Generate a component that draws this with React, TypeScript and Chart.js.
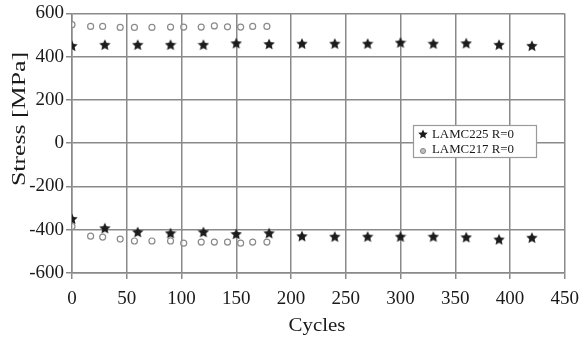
import React, { useEffect, useRef } from "react";
import { Chart, registerables } from "chart.js";

Chart.register(...registerables);

const seriesLabels = ["LAMC225 R=0", "LAMC217 R=0"];
const xTitle = "Cycles";
const yTitle = "Stress [MPa]";

const starCycles = [0, 30, 60, 90, 120, 150, 180, 210, 240, 270, 300, 330, 360, 390, 420];
const starMax = [450, 455, 455, 455, 455, 462, 458, 460, 460, 460, 465, 460, 462, 455, 450];
const starMin = [-350, -393, -411, -416, -411, -420, -416, -430, -432, -432, -432, -432, -435, -445, -437];

const circCycles = [0, 17, 28, 44, 57, 73, 90, 102, 118, 130, 142, 154, 165, 178];
const circMax = [548, 540, 540, 535, 535, 535, 537, 537, 537, 542, 538, 537, 540, 540];
const circMin = [-385, -430, -434, -443, -452, -452, -452, -462, -457, -457, -457, -462, -457, -457];

const FONT = "'Liberation Serif', 'Times New Roman', serif";

function makeStar(size: number, color: string): HTMLCanvasElement {
  const c = document.createElement("canvas");
  c.width = size;
  c.height = size;
  const ctx = c.getContext("2d")!;
  const cx = size / 2;
  const cy = size / 2 + 0.4;
  const R = size / 2;
  const r = R * 0.47;
  ctx.beginPath();
  for (let i = 0; i < 10; i++) {
    const rad = i % 2 === 0 ? R : r;
    const a = -Math.PI / 2 + (i * Math.PI) / 5;
    const x = cx + rad * Math.cos(a);
    const y = cy + rad * Math.sin(a);
    if (i === 0) ctx.moveTo(x, y);
    else ctx.lineTo(x, y);
  }
  ctx.closePath();
  ctx.fillStyle = color;
  ctx.fill();
  return c;
}

export default function App() {
  const ref = useRef<HTMLCanvasElement | null>(null);

  useEffect(() => {
    if (!ref.current) return;
    const star = makeStar(12, "#1c1c1c");
    const smallStar = makeStar(10, "#1c1c1c");

    const starData = [
      ...starCycles.map((x, i) => ({ x, y: starMax[i] })),
      ...starCycles.map((x, i) => ({ x, y: starMin[i] })),
    ];
    const circData = [
      ...circCycles.map((x, i) => ({ x, y: circMax[i] })),
      ...circCycles.map((x, i) => ({ x, y: circMin[i] })),
    ];

    const titlePlugin = {
      id: "customTitles",
      afterDraw(chart: any) {
        const ctx = chart.ctx as CanvasRenderingContext2D;
        ctx.save();
        ctx.fillStyle = "#1a1a1a";
        ctx.font = `19px ${FONT}`;
        ctx.textAlign = "center";
        ctx.textBaseline = "middle";
        // y title
        ctx.save();
        ctx.translate(20, 119);
        ctx.rotate(-Math.PI / 2);
        ctx.scale(1.36, 1);
        ctx.fillText(yTitle, 0, 0);
        ctx.restore();
        // x title
        ctx.save();
        ctx.translate(317, 326);
        ctx.scale(1.1, 1);
        ctx.fillText(xTitle, 0, 0);
        ctx.restore();

        // legend box
        const bx = 413.5, by = 125.5, bw = 123, bh = 32;
        ctx.fillStyle = "#ffffff";
        ctx.fillRect(bx, by, bw, bh);
        ctx.strokeStyle = "#9a9a9a";
        ctx.lineWidth = 1.2;
        ctx.strokeRect(bx, by, bw, bh);
        ctx.drawImage(smallStar, 418, 129);
        ctx.beginPath();
        ctx.arc(423, 151, 2.6, 0, Math.PI * 2);
        ctx.fillStyle = "#bdbdbd";
        ctx.fill();
        ctx.strokeStyle = "#8a8a8a";
        ctx.lineWidth = 1;
        ctx.stroke();
        ctx.fillStyle = "#1a1a1a";
        ctx.font = `12.5px ${FONT}`;
        ctx.textAlign = "left";
        ctx.save();
        ctx.translate(432, 0);
        ctx.scale(1.03, 1);
        ctx.fillText(seriesLabels[0], 0, 135);
        ctx.fillText(seriesLabels[1], 0, 150);
        ctx.restore();
        ctx.restore();
      },
    };

    const chart = new Chart(ref.current, {
      type: "scatter",
      data: {
        datasets: [
          {
            label: seriesLabels[1],
            data: circData,
            pointStyle: "circle",
            pointRadius: 3,
            borderColor: "#8a8a8a",
            borderWidth: 1.2,
            backgroundColor: "rgba(255,255,255,0.5)",
            showLine: false,
          },
          {
            label: seriesLabels[0],
            data: starData,
            pointStyle: star as any,
            pointRadius: 5,
            showLine: false,
          },
        ],
      },
      options: {
        animation: false,
        responsive: false,
        events: [],
        layout: { padding: { top: 12, right: 21, left: 0, bottom: 0 } },
        plugins: {
          legend: { display: false },
          tooltip: { enabled: false },
          title: { display: false },
        },
        scales: {
          x: {
            type: "linear",
            min: 0,
            max: 450,
            ticks: {
              stepSize: 50,
              color: "#1a1a1a",
              font: { family: FONT, size: 19 },
              padding: 9,
              maxRotation: 0,
            },
            grid: { color: "#8a8a8a", lineWidth: 1.5, tickLength: 6 },
            border: { color: "#8a8a8a", width: 1.5 },
            afterFit(scale: any) {
              scale.height = 69;
            },
          },
          y: {
            type: "linear",
            min: -600,
            max: 600,
            ticks: {
              stepSize: 200,
              color: "#1a1a1a",
              font: { family: FONT, size: 19 },
              padding: 2,
            },
            grid: { color: "#8a8a8a", lineWidth: 1.5, tickLength: 6 },
            border: { color: "#8a8a8a", width: 1.5 },
            afterFit(scale: any) {
              scale.width = 72;
            },
          },
        },
      },
      plugins: [titlePlugin],
    });
    return () => chart.destroy();
  }, []);

  return (
    <div style={{ position: "absolute", left: 0, top: 0, width: 588, height: 342, background: "#fff" }}>
      <canvas ref={ref} width={588} height={342} />
    </div>
  );
}
